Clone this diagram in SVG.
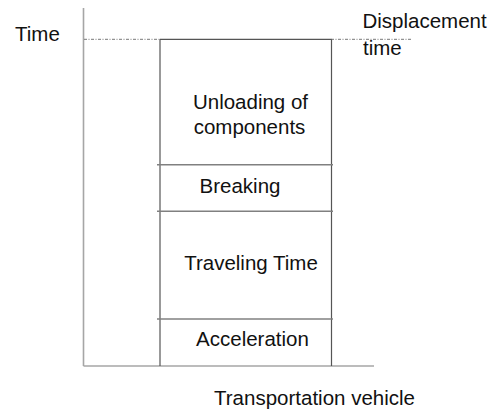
<svg xmlns="http://www.w3.org/2000/svg" width="490" height="411" viewBox="0 0 490 411">
<style>
text{font-family:"Liberation Sans",Arial,sans-serif;font-size:20.5px;fill:#111}
.axis{stroke:#a6a6a6;stroke-width:1.6;fill:none}
.box{stroke:#555;stroke-width:1.2;fill:none}
.div{stroke:#808080;stroke-width:1.4;fill:none}
.dot{stroke:#777;stroke-width:1;stroke-dasharray:3 1.5 1 1.5;fill:none}
</style>
<rect width="490" height="411" fill="#fff"/>
<g id="axes">
<line class="axis" x1="83.5" y1="8" x2="83.5" y2="366"/>
<line class="axis" x1="83.5" y1="366" x2="374" y2="366"/>
</g>
<g id="connectors">
<line class="dot" x1="84" y1="39.3" x2="160" y2="39.3"/>
<line class="dot" x1="331" y1="39.3" x2="412" y2="39.3"/>
</g>
<g id="stack">
<line class="box" x1="160" y1="39.3" x2="331.5" y2="39.3"/>
<line class="box" x1="160" y1="39.3" x2="160" y2="366"/>
<line class="box" x1="331.5" y1="39.3" x2="331.5" y2="366"/>
</g>
<g id="unloading">
<text x="250.5" y="108.5" text-anchor="middle">Unloading of</text>
<text x="249.5" y="134" text-anchor="middle">components</text>
</g>
<g id="breaking">
<line class="div" x1="157" y1="164.7" x2="333" y2="164.7"/>
<text x="240" y="193.3" text-anchor="middle">Breaking</text>
</g>
<g id="traveling">
<line class="div" x1="157" y1="211.3" x2="333" y2="211.3"/>
<text x="251" y="270" text-anchor="middle">Traveling Time</text>
</g>
<g id="acceleration">
<line class="div" x1="157" y1="319" x2="333" y2="319"/>
<text x="252.5" y="346" text-anchor="middle">Acceleration</text>
</g>
<g id="labels">
<text x="15" y="40.7">Time</text>
<text x="362.5" y="27.7">Displacement</text>
<text x="363" y="55">time</text>
<text x="314.5" y="405" text-anchor="middle">Transportation vehicle</text>
</g>
</svg>
